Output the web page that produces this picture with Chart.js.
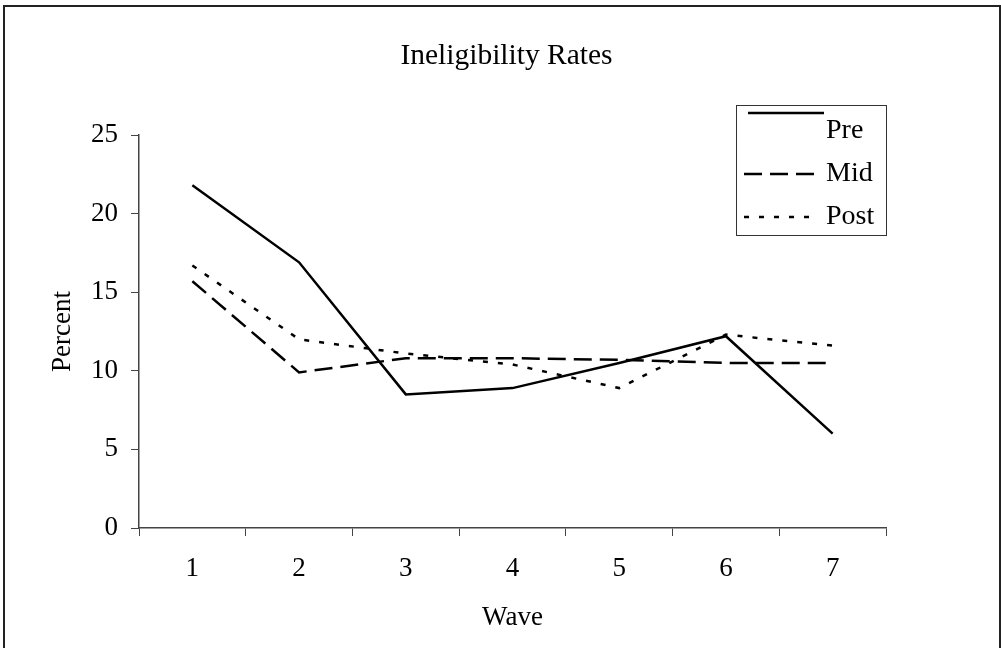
<!DOCTYPE html>
<html lang="en">
<head>
    <meta charset="UTF-8">
    <title>Ineligibility Rates</title>
    <script src="https://cdn.jsdelivr.net/npm/chart.js"></script>
    <style>
        html, body {
            margin: 0;
            padding: 0;
            background: #fff;
            overflow: hidden;
        }
        .wrap {
            position: relative;
            width: 1001px;
            height: 648px;
        }
        .frame {
            position: absolute;
            left: 3px;
            top: 5px;
            width: 994px;
            height: 700px;
            border: 2px solid #222;
            pointer-events: none;
        }
    </style>
</head>
<body>
    <div class="wrap">
        <canvas id="rateChart"></canvas>
        <div class="frame"></div>
    </div>

    <script>
        const waves = ['1', '2', '3', '4', '5', '6', '7'];
        const pre = [21.8, 16.9, 8.5, 8.9, 10.5, 12.2, 6.0];
        const mid = [15.7, 9.9, 10.8, 10.8, 10.7, 10.5, 10.5];
        const post = [16.7, 12.0, 11.1, 10.4, 8.9, 12.3, 11.6];
        const yTicks = [0, 5, 10, 15, 20, 25];

        const serif = 'Liberation Serif, Times New Roman, serif';

        // legend box inside the plot, Excel style
        const boxLegend = {
            id: 'boxLegend',
            afterDatasetsDraw(chart) {
                const ctx = chart.ctx;
                const area = chart.chartArea;
                const right = area.right;
                const left = right - 150;
                const top = area.top - 30;
                ctx.save();
                ctx.strokeStyle = '#333';
                ctx.lineWidth = 1;
                ctx.strokeRect(left + 0.5, top + 0.5, 150, 130);

                ctx.font = '28px ' + serif;
                ctx.fillStyle = '#000';
                ctx.textBaseline = 'middle';
                chart.data.datasets.forEach((ds, i) => {
                    const rowY = top + 25 + i * 43;
                    const lineY = i === 0 ? top + 8 : rowY + 1;
                    ctx.beginPath();
                    ctx.setLineDash(ds.borderDash || []);
                    ctx.lineWidth = ds.borderWidth;
                    ctx.strokeStyle = ds.borderColor;
                    ctx.moveTo(left + (i === 0 ? 12 : 8), lineY);
                    ctx.lineTo(left + (i === 0 ? 88 : 82), lineY);
                    ctx.stroke();
                    ctx.setLineDash([]);
                    ctx.fillText(ds.label, left + 90, rowY + 1);
                });
                ctx.restore();
            }
        };

        const ctx = document.getElementById('rateChart').getContext('2d');
        new Chart(ctx, {
            type: 'line',
            data: {
                labels: waves,
                datasets: [
                    {
                        label: 'Pre',
                        data: pre,
                        borderColor: '#000',
                        borderWidth: 2.5,
                        pointRadius: 0,
                        tension: 0
                    },
                    {
                        label: 'Mid',
                        data: mid,
                        borderColor: '#000',
                        borderWidth: 2.5,
                        borderDash: [18, 8],
                        pointRadius: 0,
                        tension: 0
                    },
                    {
                        label: 'Post',
                        data: post,
                        borderColor: '#000',
                        borderWidth: 2.5,
                        borderDash: [5, 10],
                        pointRadius: 0,
                        tension: 0
                    }
                ]
            },
            options: {
                responsive: true,
                maintainAspectRatio: false,
                animation: false,
                layout: {
                    padding: { left: 12, right: 0, top: 0, bottom: 0 }
                },
                plugins: {
                    legend: { display: false },
                    tooltip: { enabled: false },
                    title: {
                        display: true,
                        text: 'Ineligibility Rates',
                        color: '#000',
                        font: { family: serif, size: 29.5, weight: 'normal', lineHeight: 1.2 },
                        padding: { top: 39, bottom: 60.6 }
                    }
                },
                scales: {
                    x: {
                        offset: true,
                        afterFit(scale) { scale.height = 120; },
                        grid: {
                            offset: true,
                            drawOnChartArea: false,
                            drawTicks: true,
                            tickLength: 8,
                            color: '#444'
                        },
                        border: { display: true, color: '#444', width: 1.5 },
                        ticks: {
                            color: '#000',
                            padding: 17,
                            font: { family: serif, size: 27 }
                        },
                        title: {
                            display: true,
                            text: 'Wave',
                            color: '#000',
                            font: { family: serif, size: 27, lineHeight: 1.2 },
                            padding: { top: 0, bottom: 14 }
                        }
                    },
                    y: {
                        min: 0,
                        max: 25,
                        afterFit(scale) { scale.width = 127; },
                        afterBuildTicks(scale) {
                            scale.ticks = yTicks.map(v => ({ value: v }));
                        },
                        grid: {
                            drawOnChartArea: false,
                            drawTicks: true,
                            tickLength: 8,
                            color: '#444'
                        },
                        border: { display: true, color: '#444', width: 1.5 },
                        ticks: {
                            color: '#000',
                            padding: 13,
                            font: { family: serif, size: 27 }
                        },
                        title: {
                            display: true,
                            text: 'Percent',
                            color: '#000',
                            font: { family: serif, size: 27, lineHeight: 1.2 },
                            padding: { top: 35, bottom: 0 }
                        }
                    },
                    // empty right-hand axis that only holds the space right of the plot
                    yRight: {
                        position: 'right',
                        afterFit(scale) { scale.width = 115; },
                        grid: { display: false },
                        border: { display: false },
                        ticks: { display: false }
                    }
                }
            },
            plugins: [boxLegend]
        });
    </script>
</body>
</html>
